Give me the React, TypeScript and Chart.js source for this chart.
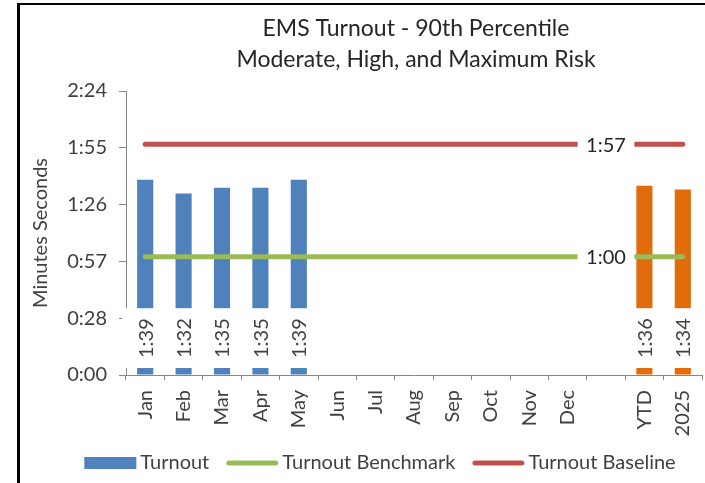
import React, { useEffect, useRef } from "react";
import { Chart, registerables } from "chart.js";

Chart.register(...registerables);

const FONT = "Lato, 'Open Sans', sans-serif";

const categories = ["Jan", "Feb", "Mar", "Apr", "May", "Jun", "Jul", "Aug", "Sep", "Oct", "Nov", "Dec", "", "YTD", "2025"];
const turnoutSeconds: (number | null)[] = [99, 92, 95, 95, 99, null, null, null, null, null, null, null, null, 96, 94];
const benchmarkSeconds = [60, 60, 60, 60, 60, 60, 60, 60, 60, 60, 60, 60, 60, 60, 60];
const baselineSeconds = [117, 117, 117, 117, 117, 117, 117, 117, 117, 117, 117, 117, 117, 117, 117];
const barColors = [
  "#4F81BD", "#4F81BD", "#4F81BD", "#4F81BD", "#4F81BD", "#4F81BD", "#4F81BD", "#4F81BD",
  "#4F81BD", "#4F81BD", "#4F81BD", "#4F81BD", "#4F81BD", "#E36C0A", "#E36C0A",
];
const yTickValues = [0, 28.8, 57.6, 86.4, 115.2, 144];
const yTickLabels = ["0:00", "0:28", "0:57", "1:26", "1:55", "2:24"];
const lineLabelIndex = 12;
const titleLines = ["EMS Turnout - 90th Percentile", "Moderate, High, and Maximum Risk"];
const seriesNames = ["Turnout", "Turnout Benchmark", "Turnout Baseline"];
const seriesColors = ["#4F81BD", "#9BBB59", "#C0504D"];

const TEXT = "#404040";
const AXIS = "#868686";
const FS = 20;

function fmt(sec: number): string {
  const m = Math.floor(sec / 60);
  const s = Math.floor(sec % 60);
  return `${m}:${String(s).padStart(2, "0")}`;
}

const labelsPlugin = {
  id: "customLabels",
  afterDatasetsDraw(chart: any) {
    const ctx = chart.ctx as CanvasRenderingContext2D;
    const yScale = chart.scales.y;
    ctx.save();
    ctx.font = `${FS}px ${FONT}`;
    const barMeta = chart.getDatasetMeta(2);
    const base = yScale.getPixelForValue(0);
    barMeta.data.forEach((el: any, i: number) => {
      const v = turnoutSeconds[i];
      if (v == null) return;
      const text = fmt(v);
      const tw = ctx.measureText(text).width;
      const boxH = tw + 20;
      const boxW = 46;
      const bottom = base - 7;
      ctx.fillStyle = "#ffffff";
      ctx.fillRect(el.x - boxW / 2, bottom - boxH, boxW, boxH);
      ctx.save();
      ctx.translate(el.x + 1, bottom - boxH / 2);
      ctx.rotate(-Math.PI / 2);
      ctx.textAlign = "center";
      ctx.textBaseline = "middle";
      ctx.fillStyle = TEXT;
      ctx.fillText(text, 0, 0);
      ctx.restore();
    });
    [0, 1].forEach((di) => {
      const meta = chart.getDatasetMeta(di);
      const el = meta.data[lineLabelIndex];
      const v = (di === 0 ? benchmarkSeconds : baselineSeconds)[lineLabelIndex];
      const text = fmt(v);
      const tw = ctx.measureText(text).width;
      const boxW = tw + 17;
      ctx.fillStyle = "#ffffff";
      ctx.fillRect(el.x - boxW / 2, el.y - 12, boxW, 24);
      ctx.fillStyle = "#262626";
      ctx.textAlign = "center";
      ctx.textBaseline = "middle";
      ctx.fillText(text, el.x, el.y + 1);
    });
    ctx.restore();
  },
  afterDraw(chart: any) {
    const ctx = chart.ctx as CanvasRenderingContext2D;
    const area = chart.chartArea;
    ctx.save();
    ctx.font = `23px ${FONT}`;
    ctx.fillStyle = "#262626";
    ctx.textAlign = "center";
    ctx.textBaseline = "middle";
    const cx = (area.left + area.right) / 2 + 2;
    titleLines.forEach((t, i) => ctx.fillText(t, cx, 29 + i * 31));
    ctx.font = `${FS}px ${FONT}`;
    const symW = 52;
    const gapSym = 4;
    const gapItem = 17;
    const widths = seriesNames.map((n) => ctx.measureText(n).width);
    const total = widths.reduce((a, w) => a + symW + gapSym + w, 0) + gapItem * (seriesNames.length - 1);
    let x = 380 - total / 2;
    const ly = 463;
    seriesNames.forEach((n, i) => {
      if (i === 0) {
        ctx.fillStyle = seriesColors[i];
        ctx.fillRect(x, ly - 6, symW, 12);
      } else {
        ctx.strokeStyle = seriesColors[i];
        ctx.lineWidth = 5;
        ctx.lineCap = "round";
        ctx.beginPath();
        ctx.moveTo(x + 2.5, ly);
        ctx.lineTo(x + symW - 2.5, ly);
        ctx.stroke();
      }
      ctx.fillStyle = TEXT;
      ctx.textAlign = "left";
      ctx.textBaseline = "middle";
      ctx.fillText(n, x + symW + gapSym, ly);
      x += symW + gapSym + widths[i] + gapItem;
    });
    ctx.restore();
  },
};

export default function App() {
  const ref = useRef<HTMLCanvasElement | null>(null);
  useEffect(() => {
    if (!ref.current) return;
    const chart = new Chart(ref.current, {
      type: "bar",
      data: {
        labels: categories,
        datasets: [
          {
            type: "line",
            label: seriesNames[1],
            data: benchmarkSeconds,
            borderColor: seriesColors[1],
            backgroundColor: seriesColors[1],
            borderWidth: 5,
            borderCapStyle: "round",
            pointRadius: 0,
            order: 0,
          } as any,
          {
            type: "line",
            label: seriesNames[2],
            data: baselineSeconds,
            borderColor: seriesColors[2],
            backgroundColor: seriesColors[2],
            borderWidth: 5,
            borderCapStyle: "round",
            pointRadius: 0,
            order: 0,
          } as any,
          {
            type: "bar",
            label: seriesNames[0],
            data: turnoutSeconds,
            backgroundColor: barColors,
            barPercentage: 0.42,
            categoryPercentage: 1,
            order: 1,
          } as any,
        ],
      },
      options: {
        responsive: false,
        animation: false,
        events: [],
        layout: { padding: { left: 0, top: 91, right: 3, bottom: 28 } },
        plugins: { legend: { display: false }, title: { display: false }, tooltip: { enabled: false } },
        scales: {
          x: {
            offset: true,
            grid: { offset: true, drawOnChartArea: false, tickLength: 5, color: AXIS },
            border: { color: AXIS },
            ticks: { minRotation: 90, maxRotation: 90, autoSkip: false, padding: 10, color: TEXT, font: { family: FONT, size: FS } },
            afterFit: (s: any) => { s.height = 80; s.paddingLeft = 0; s.paddingRight = 0; },
          },
          y: {
            min: 0,
            max: 144,
            afterBuildTicks: (s: any) => { s.ticks = yTickValues.map((v) => ({ value: v })); },
            ticks: { padding: 12, color: TEXT, font: { family: FONT, size: FS }, callback: (_v: any, i: number) => yTickLabels[i] },
            grid: { drawOnChartArea: false, tickLength: 7, color: AXIS },
            border: { color: AXIS },
            title: { display: true, text: "Minutes Seconds", color: TEXT, font: { family: FONT, size: FS }, padding: { top: 29, bottom: 0 } },
            afterFit: (s: any) => { s.width = 126; s.paddingTop = 0; s.paddingBottom = 0; },
          },
        },
      } as any,
      plugins: [labelsPlugin],
    });
    return () => chart.destroy();
  }, []);
  return (
    <div style={{ position: "fixed", left: 0, top: 0, width: 705, height: 483, overflow: "hidden", background: "#fff" }}>
      <div style={{ position: "absolute", left: 17, top: 3, width: 900, height: 700, borderLeft: "3px solid #000", borderTop: "2px solid #000" }} />
      <canvas ref={ref} width={705} height={483} style={{ position: "absolute", left: 0, top: 0 }} />
    </div>
  );
}
